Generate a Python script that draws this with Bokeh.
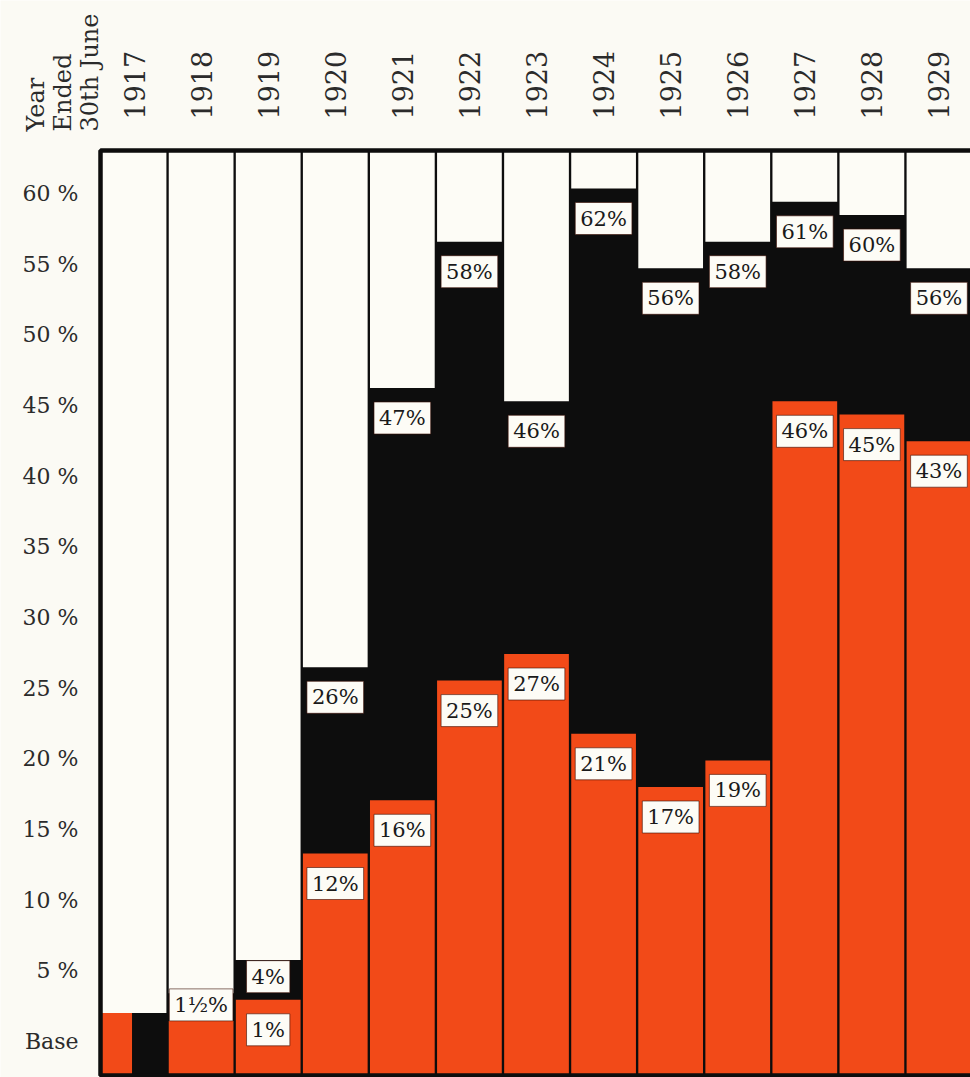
import numpy as np
from math import pi
from bokeh.plotting import figure
from bokeh.models import Range1d, ColumnDataSource
from bokeh.core.properties import value
from bokeh.embed import file_html
from bokeh.resources import INLINE

# ---------------- data ----------------
years = [1917, 1918, 1919, 1920, 1921, 1922, 1923, 1924, 1925, 1926, 1927, 1928, 1929]
# lower (red) series: percentage above base
red_pct = [0, -0.6, 1, 12, 16, 25, 27, 21, 17, 19, 46, 45, 43]
# upper (black) series: percentage above base
black_pct = [0, 1.5, 4, 26, 47, 58, 46, 62, 56, 58, 61, 60, 56]
red_text = ["", "", "1%", "12%", "16%", "25%", "27%", "21%", "17%", "19%", "46%", "45%", "43%"]
black_text = ["", "1½%", "4%", "26%", "47%", "58%", "46%", "62%", "56%", "58%", "61%", "60%", "56%"]
axis_ticks = [0, 5, 10, 15, 20, 25, 30, 35, 40, 45, 50, 55, 60]
axis_text = ["Base", "5 %", "10 %", "15 %", "20 %", "25 %", "30 %", "35 %", "40 %",
             "45 %", "50 %", "55 %", "60 %"]
header_lines = ["Year", "Ended", "30th June"]

# ---------------- style ----------------
RED = "#F24A18"
BLACK = "#0D0D0D"
WHITE = "#FDFCF6"
PAPER = "#FBFAF4"
INK = "#1A1A1A"
GREY_INK = "#2b2b2b"
SERIF = "DejaVu Serif"

W, H = 970, 1077
CHART_L, CHART_T, CHART_B = 100, 150, 1075      # chart box in canvas pixels
N_VISIBLE = 12.97                                # columns visible before the right edge
CW = (W - CHART_L) / N_VISIBLE                   # pixels per column
ZERO_PX, PXU = 1012.6, 13.3                      # bar scale: base line and px per percent
AX_ZERO_PX, AX_PXU = 1041.0, 14.133              # printed scale of the side labels


def bar_y(px):
    return (ZERO_PX - px) / PXU


def printed_to_bar(v):
    return bar_y(AX_ZERO_PX - v * AX_PXU)


CH_TOP, CH_BOT = bar_y(CHART_T), bar_y(CHART_B)

n = len(years)
idx = np.arange(n)
xc = idx + 0.5
BW = 0.965

p = figure(width=W, height=H,
           x_range=Range1d(-CHART_L / CW, N_VISIBLE),
           y_range=Range1d(bar_y(H), bar_y(0)),
           output_backend="svg", toolbar_location=None,
           x_axis_location=None, y_axis_location=None,
           min_border=0)
p.background_fill_color = PAPER
p.border_fill_color = PAPER
p.outline_line_color = None
p.grid.grid_line_color = None

# chart area (black background of the middle series)
p.quad(left=[0], right=[n], bottom=[CH_BOT], top=[CH_TOP], fill_color=BLACK, line_color=None)
# white (upper) parts
p.vbar(x=xc, width=BW, bottom=black_pct, top=CH_TOP, fill_color=WHITE, line_color=None)
# red (lower) parts
p.vbar(x=xc[1:], width=BW, bottom=CH_BOT, top=red_pct[1:], fill_color=RED, line_color=None)
# base year: red half column (black half is the background)
p.vbar(x=[idx[0] + 0.24], width=0.46, bottom=CH_BOT, top=[red_pct[0]],
       fill_color=RED, line_color=None)
# frame
p.quad(left=[0], right=[n], bottom=[CH_BOT], top=[CH_TOP], fill_color=None,
       line_color=BLACK, line_width=4.5)

# ---------------- value labels ----------------
lx, ly, lt = [], [], []
for i in range(n):
    if black_text[i]:
        gap_px = (black_pct[i] - red_pct[i]) * PXU
        off = min(30.0, 0.42 * gap_px)
        lx.append(xc[i]); ly.append(black_pct[i] - off / PXU); lt.append(black_text[i])
    if red_text[i]:
        lx.append(xc[i]); ly.append(red_pct[i] - 30.0 / PXU); lt.append(red_text[i])

src = ColumnDataSource(dict(x=lx, y=ly, t=lt))
p.text(x="x", y="y", text="t", source=src, text_align="center", text_baseline="middle",
       text_font=value(SERIF), text_font_size="21px", text_color=INK,
       background_fill_color=WHITE, border_line_color="#3a0d04", border_line_width=1,
       border_line_alpha=0.6, padding=(5, 4))

# ---------------- side scale (printed) ----------------
tick_src = ColumnDataSource(dict(x=[0.0] * len(axis_ticks),
                                 y=[printed_to_bar(v) for v in axis_ticks],
                                 t=axis_text))
p.text(x="x", y="y", text="t", source=tick_src, x_offset=-22, text_align="right",
       text_baseline="middle", text_font=value(SERIF), text_font_size="22px",
       text_color=GREY_INK)

# ---------------- year labels ----------------
yr_src = ColumnDataSource(dict(x=xc, y=[CH_TOP + 31 / PXU] * n, t=[str(y) for y in years]))
p.text(x="x", y="y", text="t", source=yr_src, angle=pi / 2, text_align="left",
       text_baseline="middle", text_font=value(SERIF), text_font_size="27px",
       text_color=GREY_INK)

# ---------------- header "Year Ended 30th June" ----------------
hdr_px = [35, 62, 89]
hdr_src = ColumnDataSource(dict(x=[(v - CHART_L) / CW for v in hdr_px],
                                y=[bar_y(131)] * len(header_lines), t=header_lines))
p.text(x="x", y="y", text="t", source=hdr_src, angle=pi / 2, text_align="left",
       text_baseline="middle", text_font=value(SERIF), text_font_size="24px",
       text_color=GREY_INK)

open("out.html", "w").write(file_html(p, INLINE))
